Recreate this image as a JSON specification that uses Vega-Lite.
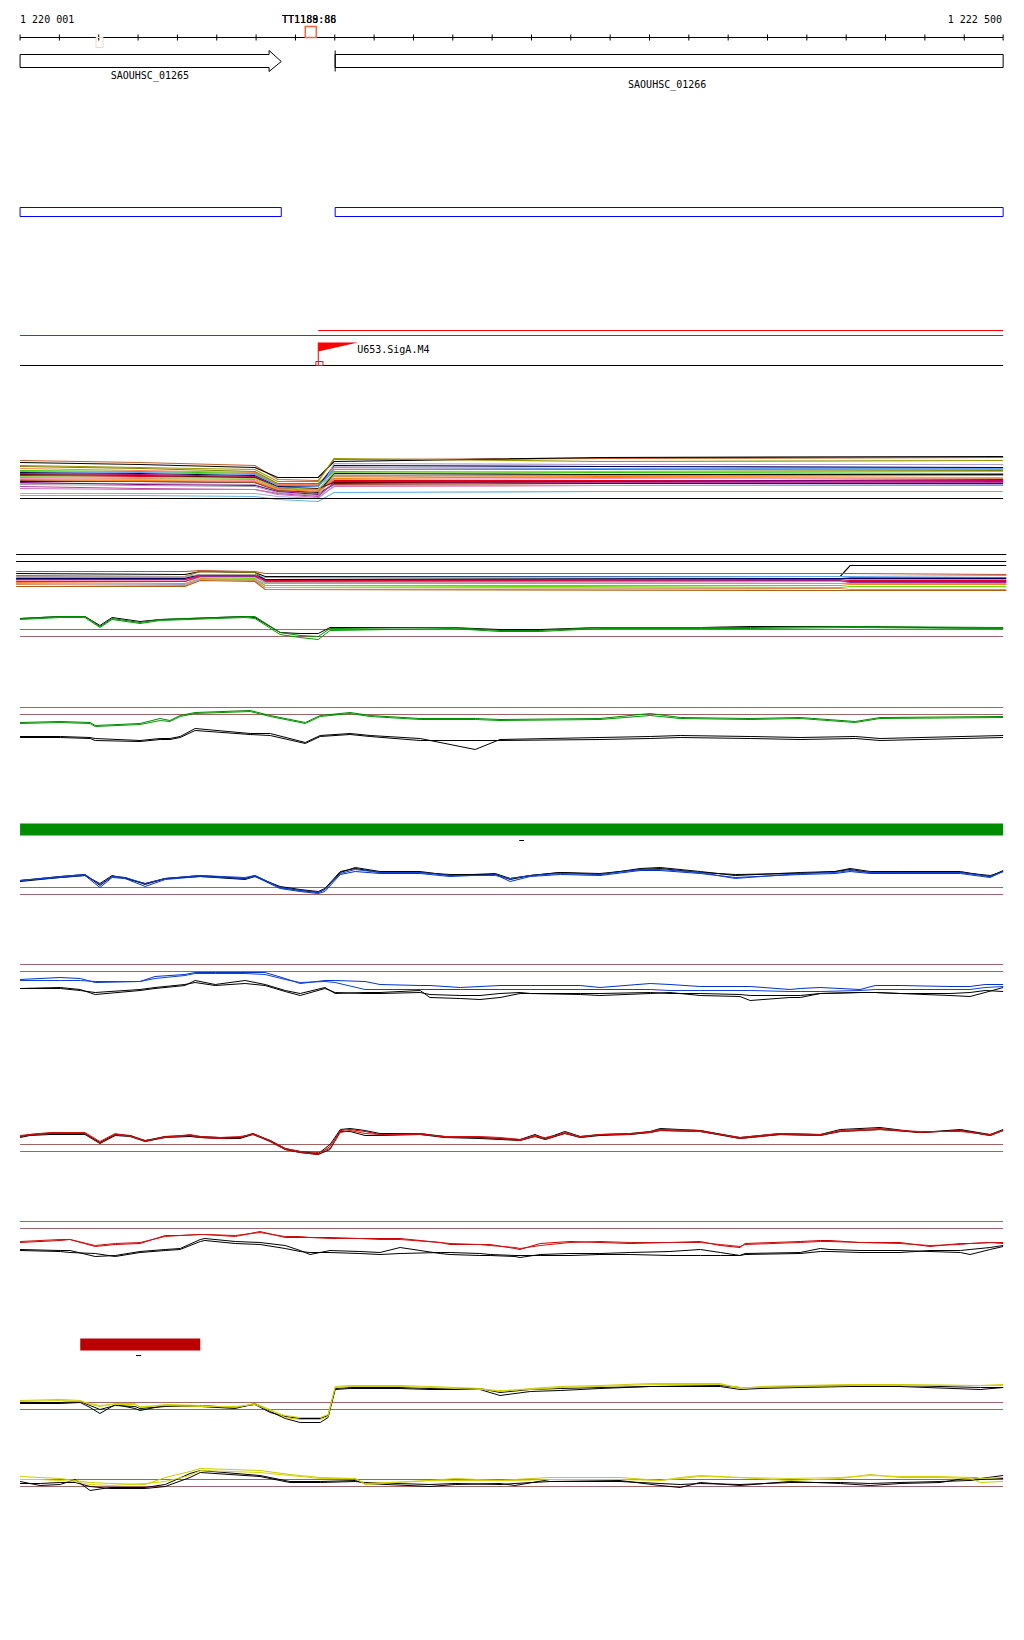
{
"$schema":"https://vega.github.io/schema/vega-lite/v6.json",
"background":"white","padding":0,"spacing":0,"bounds":"flush",
"config":{"view":{"stroke":null},"text":{"font":"DejaVu Sans Mono","fontSize":10,"baseline":"middle","color":"#000000"},"line":{"strokeWidth":1},"rule":{"strokeWidth":1}},
"resolve":{"scale":{"x":"independent","y":"independent","color":"independent"}},
"vconcat":[
{"width":1024,"height":50,"layer":[
 {"data":{"values":[{"start":1220001,"end":1222500}]},"mark":{"type":"rule","color":"#000000"},"encoding":{"x":{"field":"start","type":"quantitative","scale":{"domain":[1219950,1222553],"nice":false,"zero":false},"axis":null},"x2":{"field":"end"},"y":{"datum":12,"scale":{"domain":[-0.5,49.5],"nice":false,"zero":false},"axis":null}}},
 {"data":{"values":[{"x":1220001},{"x":1220101},{"x":1220201},{"x":1220301},{"x":1220401},{"x":1220501},{"x":1220601},{"x":1220701},{"x":1220801},{"x":1220901},{"x":1221001},{"x":1221101},{"x":1221201},{"x":1221301},{"x":1221401},{"x":1221501},{"x":1221601},{"x":1221701},{"x":1221801},{"x":1221901},{"x":1222001},{"x":1222101},{"x":1222201},{"x":1222301},{"x":1222401},{"x":1222500}]},"mark":{"type":"rule","color":"#000000"},"encoding":{"x":{"field":"x","type":"quantitative"},"y":{"datum":15},"y2":{"datum":9}}},
 {"data":{"values":[{"name":"TT1188:86","start":1220726,"end":1220754}]},"mark":{"type":"rect","fill":"transparent","stroke":"#FF6040","strokeWidth":1.5},"encoding":{"x":{"field":"start","type":"quantitative"},"x2":{"field":"end"},"y":{"datum":23},"y2":{"datum":12}}},
 {"data":{"values":[{"start":1220194,"end":1220212}]},"mark":{"type":"rect","fill":"transparent","stroke":"#F5D5C5","strokeWidth":1},"encoding":{"x":{"field":"start","type":"quantitative"},"x2":{"field":"end"},"y":{"datum":12},"y2":{"datum":2}}},
 {"data":{"values":[{"t":"1 220 001"}]},"mark":{"type":"text","align":"left"},"encoding":{"x":{"datum":1220001},"y":{"datum":29.5},"text":{"field":"t"}}},
 {"data":{"values":[{"t":"1 222 500"}]},"mark":{"type":"text","align":"right"},"encoding":{"x":{"datum":1222497},"y":{"datum":29.5},"text":{"field":"t"}}},
 {"data":{"values":[{"t":"TT1188:86"},{"t":"TT1189:88"}]},"mark":{"type":"text","align":"left"},"encoding":{"x":{"datum":1220667},"y":{"datum":29.5},"text":{"field":"t"}}}
]},
{"width":1024,"height":50,"layer":[
 {"data":{"values":[{"o":1,"x":1220001,"y":45},{"o":2,"x":1220634,"y":45},{"o":3,"x":1220634,"y":49},{"o":4,"x":1220665,"y":38},{"o":5,"x":1220634,"y":28},{"o":6,"x":1220634,"y":32},{"o":7,"x":1220001,"y":32},{"o":8,"x":1220001,"y":45}]},"mark":{"type":"line","color":"#000000","strokeWidth":1},"encoding":{"x":{"field":"x","type":"quantitative","scale":{"domain":[1219950,1222553],"nice":false,"zero":false},"axis":null},"y":{"field":"y","type":"quantitative","scale":{"domain":[-0.5,49.5],"nice":false,"zero":false},"axis":null},"order":{"field":"o"}}},
 {"data":{"values":[{"start":1220802,"end":1222500}]},"mark":{"type":"rect","fill":"white","stroke":"#000000","strokeWidth":1},"encoding":{"x":{"field":"start","type":"quantitative"},"x2":{"field":"end"},"y":{"datum":45},"y2":{"datum":32}}},
 {"data":{"values":[{"start":1220802}]},"mark":{"type":"rule","color":"#000000"},"encoding":{"x":{"field":"start","type":"quantitative"},"y":{"datum":49},"y2":{"datum":28}}},
 {"data":{"values":[{"t":"SAOUHSC_01265"}]},"mark":{"type":"text","align":"center"},"encoding":{"x":{"datum":1220331},"y":{"datum":24},"text":{"field":"t"}}},
 {"data":{"values":[{"t":"SAOUHSC_01266"}]},"mark":{"type":"text","align":"center"},"encoding":{"x":{"datum":1221646},"y":{"datum":15},"text":{"field":"t"}}}
]},
{"width":1024,"height":200,"layer":[
 {"data":{"values":[{"start":1220001,"end":1220665},{"start":1220802,"end":1222500}]},"mark":{"type":"rect","fill":"transparent","stroke":"#0000FF","strokeWidth":1},"encoding":{"x":{"field":"start","type":"quantitative","scale":{"domain":[1219950,1222553],"nice":false,"zero":false},"axis":null},"x2":{"field":"end"},"y":{"datum":92,"scale":{"domain":[-0.5,199.5],"nice":false,"zero":false},"axis":null},"y2":{"datum":83}}}
]},
{"width":1024,"height":80,"layer":[
 {"data":{"values":[{"start":1220001,"end":1222500}]},"mark":{"type":"rule","color":"#FF0000"},"encoding":{"x":{"field":"start","type":"quantitative","scale":{"domain":[1219950,1222553],"nice":false,"zero":false},"axis":null},"x2":{"field":"end"},"y":{"datum":44,"scale":{"domain":[-0.5,79.5],"nice":false,"zero":false},"axis":null}}},
 {"data":{"values":[{"start":1220759,"end":1222500}]},"mark":{"type":"rule","color":"#FF0000"},"encoding":{"x":{"field":"start","type":"quantitative"},"x2":{"field":"end"},"y":{"datum":49}}},
 {"data":{"values":[{"start":1220001,"end":1222500}]},"mark":{"type":"rule","color":"#000000"},"encoding":{"x":{"field":"start","type":"quantitative"},"x2":{"field":"end"},"y":{"datum":14}}},
 {"data":{"values":[{"tss":1220759}]},"mark":{"type":"rule","color":"#FF0000"},"encoding":{"x":{"field":"tss","type":"quantitative"},"y":{"datum":37},"y2":{"datum":14}}},
 {"data":{"values":[{"x":1220759,"t":37,"b":28},{"x":1220860,"t":37,"b":37}]},"mark":{"type":"area","color":"#FF0000"},"encoding":{"x":{"field":"x","type":"quantitative"},"y":{"field":"t","type":"quantitative"},"y2":{"field":"b"}}},
 {"data":{"values":[{"start":1220753,"end":1220771}]},"mark":{"type":"rect","fill":"transparent","stroke":"#FF0000","strokeWidth":1},"encoding":{"x":{"field":"start","type":"quantitative"},"x2":{"field":"end"},"y":{"datum":18},"y2":{"datum":14}}},
 {"data":{"values":[{"t":"U653.SigA.M4"}]},"mark":{"type":"text","align":"left"},"encoding":{"x":{"datum":1220858},"y":{"datum":30},"text":{"field":"t"}}}
]},
{"width":1024,"height":130,"layer":[
 {"data":{"values":[
{"x":1220001,"s1":49,"s2":47,"s3":44,"s4":41,"s5":43,"s6":39,"s7":37,"s8":36,"s9":34,"s10":32,"s11":31,"s12":28,"s13":29,"s14":26,"s15":27,"s16":25,"s17":30,"s18":23,"s19":21,"s20":14,"s21":16,"s22":35,"s23":38,"s24":33},
{"x":1220306,"s1":47,"s2":45,"s3":42,"s4":39,"s5":41,"s6":38,"s7":36,"s8":35,"s9":33,"s10":31,"s11":30,"s12":28,"s13":28,"s14":26,"s15":25,"s16":24,"s17":29,"s18":21,"s19":20,"s20":14,"s21":16,"s22":34,"s23":37,"s24":32},
{"x":1220598,"s1":44,"s2":42,"s3":40,"s4":37,"s5":38,"s6":36,"s7":34,"s8":33,"s9":32,"s10":30,"s11":29,"s12":27,"s13":27,"s14":25,"s15":24,"s16":23,"s17":28,"s18":20,"s19":20,"s20":13,"s21":16,"s22":32,"s23":35,"s24":31},
{"x":1220656,"s1":30,"s2":32,"s3":28,"s4":25,"s5":26,"s6":24,"s7":23,"s8":22,"s9":21,"s10":21,"s11":20,"s12":19,"s13":19,"s14":18,"s15":18,"s16":17,"s17":20,"s18":16,"s19":15,"s20":10,"s21":13,"s22":22,"s23":24,"s24":22},
{"x":1220759,"s1":29,"s2":32,"s3":28,"s4":25,"s5":26,"s6":24,"s7":23,"s8":21,"s9":20,"s10":19,"s11":18,"s12":17,"s13":16,"s14":15,"s15":15,"s16":14,"s17":18,"s18":13,"s19":12,"s20":8,"s21":11,"s22":21,"s23":23,"s24":20},
{"x":1220799,"s1":50,"s2":48,"s3":51,"s4":42,"s5":40,"s6":38,"s7":44,"s8":28,"s9":29,"s10":33,"s11":30,"s12":36,"s13":25,"s14":46,"s15":26,"s16":34,"s17":31,"s18":27,"s19":23,"s20":17,"s21":24,"s22":27,"s23":40,"s24":37},
{"x":1221475,"s1":51,"s2":52,"s3":48,"s4":41,"s5":40,"s6":37,"s7":43,"s8":28,"s9":29,"s10":32,"s11":31,"s12":35,"s13":24,"s14":45,"s15":28,"s16":34,"s17":33,"s18":27,"s19":24,"s20":18,"s21":24,"s22":26,"s23":41,"s24":38},
{"x":1222500,"s1":52,"s2":53,"s3":49,"s4":40,"s5":39,"s6":36,"s7":42,"s8":29,"s9":28,"s10":31,"s11":32,"s12":35,"s13":24,"s14":45,"s15":30,"s16":34,"s17":34,"s18":27,"s19":24,"s20":18,"s21":25,"s22":26,"s23":41,"s24":38}
 ]},"transform":[{"fold":["s1","s2","s3","s4","s5","s6","s7","s8","s9","s10","s11","s12","s13","s14","s15","s16","s17","s18","s19","s20","s21","s22","s23","s24"],"as":["s","v"]}],
 "mark":{"type":"line","strokeWidth":1.2},"encoding":{"x":{"field":"x","type":"quantitative","scale":{"domain":[1219950,1222553],"nice":false,"zero":false},"axis":null},"y":{"field":"v","type":"quantitative","scale":{"domain":[-0.5,129.5],"nice":false,"zero":false},"axis":null},"color":{"field":"s","type":"nominal","scale":{"domain":["s1","s2","s3","s4","s5","s6","s7","s8","s9","s10","s11","s12","s13","s14","s15","s16","s17","s18","s19","s20","s21","s22","s23","s24"],"range":["#C0602A","#000000","#999900","#FF7F50","#808000","#33CC00","#000050","#CC0066","#E00020","#D09060","#FF90B0","#111111","#A05030","#B0A0D0","#800080","#A0A0A0","#FF8000","#C040A0","#D070C0","#66B2E8","#A0A8E0","#600000","#60A0FF","#90D050"]},"legend":null}}},
 {"data":{"values":[{"start":1220001,"end":1222500,"v":11}]},"mark":{"type":"rule","color":"#000000"},"encoding":{"x":{"field":"start","type":"quantitative"},"x2":{"field":"end"},"y":{"field":"v","type":"quantitative"}}}
]},
{"width":1024,"height":90,"layer":[
 {"data":{"values":[{"start":1219991,"end":1222508,"v":45},{"start":1219991,"end":1222508,"v":38}]},"mark":{"type":"rule","color":"#000000"},"encoding":{"x":{"field":"start","type":"quantitative","scale":{"domain":[1219950,1222553],"nice":false,"zero":false},"axis":null},"x2":{"field":"end"},"y":{"field":"v","type":"quantitative","scale":{"domain":[-0.5,89.5],"nice":false,"zero":false},"axis":null}}},
 {"data":{"values":[
{"x":1219991,"a":26,"b":28,"c":24,"d":22,"e":20,"f":17,"g":15,"h":18,"i":19,"j":21,"k":18,"l":23,"m":13,"n":20,"o":16},
{"x":1220420,"a":25,"b":28,"c":23,"d":22,"e":20,"f":16,"g":14,"h":18,"i":19,"j":21,"k":18,"l":23,"m":13,"n":20,"o":15},
{"x":1220459,"a":28,"b":29,"c":28,"d":24,"e":23,"f":21,"g":20,"h":22,"i":22,"j":25,"k":23,"l":25,"m":19,"n":24,"o":20},
{"x":1220598,"a":27,"b":28,"c":27,"d":24,"e":23,"f":20,"g":19,"h":21,"i":22,"j":25,"k":23,"l":25,"m":18,"n":24,"o":20},
{"x":1220624,"a":23,"b":26,"c":20,"d":22,"e":19,"f":14,"g":12,"h":14,"i":17,"j":20,"k":18,"l":17,"m":10,"n":19,"o":16},
{"x":1222086,"a":23,"b":26,"c":21,"d":23,"e":18,"f":14,"g":11,"h":12,"i":16,"j":21,"k":19,"l":18,"m":9,"n":20,"o":16},
{"x":1222111,"a":34,"b":26,"c":22,"d":23,"e":18,"f":15,"g":10,"h":13,"i":17,"j":21,"k":17,"l":20,"m":9,"n":19,"o":16},
{"x":1222508,"a":34,"b":25,"c":22,"d":24,"e":18,"f":15,"g":10,"h":13,"i":17,"j":21,"k":17,"l":20,"m":9,"n":19,"o":16}
 ]},"transform":[{"fold":["a","b","c","d","e","f","g","h","i","j","k","l","m","n","o"],"as":["s","v"]}],
 "mark":{"type":"line","strokeWidth":1.2},"encoding":{"x":{"field":"x","type":"quantitative"},"y":{"field":"v","type":"quantitative"},"color":{"field":"s","type":"nominal","scale":{"domain":["a","b","c","d","e","f","g","h","i","j","k","l","m","n","o"],"range":["#000000","#C05030","#808000","#66AAEE","#C00070","#FF7F30","#D09060","#66DD00","#FF90C0","#000060","#9030A0","#B0A0A0","#B06010","#E00030","#A0A0D0"]},"legend":null}}}
]},
{"width":1024,"height":60,"layer":[
 {"data":{"values":[{"start":1220001,"end":1222500,"v":30},{"start":1220001,"end":1222500,"v":23}]},"mark":{"type":"rule","color":"#A06464"},"encoding":{"x":{"field":"start","type":"quantitative","scale":{"domain":[1219950,1222553],"nice":false,"zero":false},"axis":null},"x2":{"field":"end"},"y":{"field":"v","type":"quantitative","scale":{"domain":[-0.5,59.5],"nice":false,"zero":false},"axis":null}}},
 {"data":{"values":[
{"x":1220001,"k":41,"g1":41,"g2":40},{"x":1220103,"k":43,"g1":43,"g2":42},{"x":1220166,"k":43,"g1":43,"g2":42},{"x":1220204,"k":34,"g1":33,"g2":32},{"x":1220235,"k":42,"g1":41,"g2":40},{"x":1220306,"k":38,"g1":37,"g2":36},{"x":1220357,"k":40,"g1":40,"g2":39},{"x":1220573,"k":43,"g1":43,"g2":42},{"x":1220598,"k":42,"g1":43,"g2":41},{"x":1220662,"k":27,"g1":27,"g2":25},{"x":1220713,"k":26,"g1":24,"g2":22},{"x":1220759,"k":26,"g1":23,"g2":20},{"x":1220789,"k":32,"g1":31,"g2":29},{"x":1221094,"k":32,"g1":32,"g2":31},{"x":1221221,"k":30,"g1":29,"g2":28},{"x":1221323,"k":30,"g1":29,"g2":28},{"x":1221475,"k":32,"g1":32,"g2":31},{"x":1221730,"k":32,"g1":32,"g2":31},{"x":1221857,"k":33,"g1":32,"g2":31},{"x":1222111,"k":33,"g1":33,"g2":32},{"x":1222500,"k":31,"g1":32,"g2":31}
 ]},"transform":[{"fold":["k","g1","g2"],"as":["s","v"]}],
 "mark":{"type":"line","strokeWidth":1},"encoding":{"x":{"field":"x","type":"quantitative"},"y":{"field":"v","type":"quantitative"},"color":{"field":"s","type":"nominal","scale":{"domain":["k","g1","g2"],"range":["#000000","#008800","#009900"]},"legend":null}}}
]},
{"width":1024,"height":120,"layer":[
 {"data":{"values":[{"start":1220001,"end":1222500,"v":72},{"start":1220001,"end":1222500,"v":65}]},"mark":{"type":"rule","color":"#A06464"},"encoding":{"x":{"field":"start","type":"quantitative","scale":{"domain":[1219950,1222553],"nice":false,"zero":false},"axis":null},"x2":{"field":"end"},"y":{"field":"v","type":"quantitative","scale":{"domain":[-0.5,119.5],"nice":false,"zero":false},"axis":null}}},
 {"data":{"values":[
{"x":1220001,"g1":57,"g2":56,"k1":43,"k2":42},{"x":1220103,"g1":58,"g2":57,"k1":43,"k2":42},{"x":1220179,"g1":57,"g2":56,"k1":42,"k2":41},{"x":1220192,"g1":54,"g2":53,"k1":41,"k2":39},{"x":1220306,"g1":56,"g2":55,"k1":39,"k2":38},{"x":1220357,"g1":61,"g2":59,"k1":41,"k2":40},{"x":1220382,"g1":59,"g2":58,"k1":41,"k2":40},{"x":1220408,"g1":64,"g2":63,"k1":43,"k2":42},{"x":1220446,"g1":67,"g2":66,"k1":51,"k2":49},{"x":1220586,"g1":69,"g2":68,"k1":46,"k2":45},{"x":1220637,"g1":64,"g2":63,"k1":46,"k2":44},{"x":1220726,"g1":57,"g2":56,"k1":37,"k2":36},{"x":1220764,"g1":64,"g2":63,"k1":44,"k2":43},{"x":1220840,"g1":67,"g2":66,"k1":46,"k2":45},{"x":1220891,"g1":64,"g2":63,"k1":44,"k2":43},{"x":1221018,"g1":61,"g2":60,"k1":41,"k2":39},{"x":1221158,"g1":61,"g2":60,"k1":30,"k2":39},{"x":1221221,"g1":60,"g2":59,"k1":40,"k2":39},{"x":1221475,"g1":61,"g2":60,"k1":42,"k2":40},{"x":1221603,"g1":66,"g2":64,"k1":43,"k2":41},{"x":1221679,"g1":62,"g2":61,"k1":44,"k2":42},{"x":1221857,"g1":61,"g2":60,"k1":43,"k2":41},{"x":1221984,"g1":62,"g2":61,"k1":42,"k2":40},{"x":1222124,"g1":58,"g2":57,"k1":43,"k2":41},{"x":1222187,"g1":62,"g2":61,"k1":41,"k2":39},{"x":1222500,"g1":63,"g2":62,"k1":44,"k2":42}
 ]},"transform":[{"fold":["k1","k2","g1","g2"],"as":["s","v"]}],
 "mark":{"type":"line","strokeWidth":1},"encoding":{"x":{"field":"x","type":"quantitative"},"y":{"field":"v","type":"quantitative"},"color":{"field":"s","type":"nominal","scale":{"domain":["k1","k2","g1","g2"],"range":["#000000","#000000","#008800","#009900"]},"legend":null}}}
]},
{"width":1024,"height":80,"layer":[
 {"data":{"values":[{"start":1220001,"end":1222500}]},"mark":{"type":"rect","color":"#008C00"},"encoding":{"x":{"field":"start","type":"quantitative","scale":{"domain":[1219950,1222553],"nice":false,"zero":false},"axis":null},"x2":{"field":"end"},"y":{"datum":36,"scale":{"domain":[-0.5,79.5],"nice":false,"zero":false},"axis":null},"y2":{"datum":24}}},
 {"data":{"values":[{"start":1221270,"end":1221282}]},"mark":{"type":"rule","color":"#000000"},"encoding":{"x":{"field":"start","type":"quantitative"},"x2":{"field":"end"},"y":{"datum":19}}}
]},
{"width":1024,"height":60,"layer":[
 {"data":{"values":[{"start":1220001,"end":1222500,"v":32},{"start":1220001,"end":1222500,"v":25}]},"mark":{"type":"rule","color":"#A06464"},"encoding":{"x":{"field":"start","type":"quantitative","scale":{"domain":[1219950,1222553],"nice":false,"zero":false},"axis":null},"x2":{"field":"end"},"y":{"field":"v","type":"quantitative","scale":{"domain":[-0.5,59.5],"nice":false,"zero":false},"axis":null}}},
 {"data":{"values":[
{"x":1220001,"k1":39,"b1":39,"k2":38,"b2":39},{"x":1220103,"k1":43,"b1":42,"k2":42,"b2":43},{"x":1220166,"k1":45,"b1":44,"k2":44,"b2":45},{"x":1220204,"k1":34,"b1":32,"k2":36,"b2":35},{"x":1220235,"k1":43,"b1":42,"k2":44,"b2":43},{"x":1220268,"k1":42,"b1":41,"k2":41,"b2":42},{"x":1220319,"k1":35,"b1":33,"k2":36,"b2":36},{"x":1220370,"k1":41,"b1":40,"k2":41,"b2":41},{"x":1220459,"k1":44,"b1":43,"k2":43,"b2":44},{"x":1220573,"k1":41,"b1":41,"k2":40,"b2":42},
{"x":1220598,"k1":44,"b1":43,"k2":43,"b2":44},{"x":1220662,"k1":32,"b1":31,"k2":33,"b2":32},{"x":1220713,"k1":29,"b1":28,"k2":30,"b2":29},{"x":1220759,"k1":27,"b1":26,"k2":28,"b2":27},{"x":1220776,"k1":30,"b1":28,"k2":31,"b2":30},{"x":1220815,"k1":47,"b1":45,"k2":48,"b2":46},{"x":1220853,"k1":52,"b1":48,"k2":51,"b2":50},{"x":1220916,"k1":48,"b1":46,"k2":47,"b2":47},{"x":1221018,"k1":48,"b1":46,"k2":47,"b2":47},{"x":1221094,"k1":44,"b1":43,"k2":45,"b2":44},
{"x":1221209,"k1":46,"b1":45,"k2":45,"b2":44},{"x":1221247,"k1":41,"b1":38,"k2":40,"b2":41},{"x":1221298,"k1":44,"b1":43,"k2":44,"b2":44},{"x":1221374,"k1":47,"b1":45,"k2":47,"b2":46},{"x":1221475,"k1":45,"b1":44,"k2":46,"b2":45},{"x":1221577,"k1":51,"b1":49,"k2":50,"b2":50},{"x":1221628,"k1":52,"b1":49,"k2":51,"b2":50},{"x":1221730,"k1":48,"b1":46,"k2":47,"b2":47},{"x":1221819,"k1":44,"b1":42,"k2":45,"b2":41},{"x":1221984,"k1":47,"b1":45,"k2":46,"b2":46},
{"x":1222073,"k1":48,"b1":46,"k2":48,"b2":47},{"x":1222111,"k1":51,"b1":48,"k2":50,"b2":49},{"x":1222162,"k1":48,"b1":46,"k2":47,"b2":47},{"x":1222238,"k1":48,"b1":46,"k2":47,"b2":47},{"x":1222391,"k1":48,"b1":46,"k2":47,"b2":47},{"x":1222467,"k1":43,"b1":42,"k2":44,"b2":43},{"x":1222500,"k1":49,"b1":48,"k2":48,"b2":48}
 ]},"transform":[{"fold":["k1","k2","b1","b2"],"as":["s","v"]}],
 "mark":{"type":"line","strokeWidth":1},"encoding":{"x":{"field":"x","type":"quantitative"},"y":{"field":"v","type":"quantitative"},"color":{"field":"s","type":"nominal","scale":{"domain":["k1","k2","b1","b2"],"range":["#000000","#000000","#0033CC","#1040D8"]},"legend":null}}}
]},
{"width":1024,"height":160,"layer":[
 {"data":{"values":[{"start":1220001,"end":1222500,"v":115},{"start":1220001,"end":1222500,"v":108}]},"mark":{"type":"rule","color":"#A06464"},"encoding":{"x":{"field":"start","type":"quantitative","scale":{"domain":[1219950,1222553],"nice":false,"zero":false},"axis":null},"x2":{"field":"end"},"y":{"field":"v","type":"quantitative","scale":{"domain":[-0.5,159.5],"nice":false,"zero":false},"axis":null}}},
 {"data":{"values":[
{"x":1220001,"b1":100,"b2":99,"k1":91,"k2":91},{"x":1220103,"b1":102,"b2":99,"k1":92,"k2":91},{"x":1220154,"b1":101,"b2":99,"k1":90,"k2":89},{"x":1220192,"b1":97,"b2":98,"k1":85,"k2":87},{"x":1220306,"b1":98,"b2":98,"k1":89,"k2":90},{"x":1220344,"b1":103,"b2":101,"k1":91,"k2":92},{"x":1220420,"b1":105,"b2":104,"k1":94,"k2":95},{"x":1220446,"b1":107,"b2":106,"k1":99,"k2":97},{"x":1220497,"b1":107,"b2":106,"k1":95,"k2":94},{"x":1220573,"b1":107,"b2":106,"k1":99,"k2":96},
{"x":1220624,"b1":107,"b2":105,"k1":95,"k2":94},{"x":1220675,"b1":101,"b2":100,"k1":89,"k2":88},{"x":1220713,"b1":96,"b2":97,"k1":86,"k2":84},{"x":1220776,"b1":99,"b2":98,"k1":92,"k2":91},{"x":1220802,"b1":99,"b2":97,"k1":86,"k2":87},{"x":1220878,"b1":98,"b2":90,"k1":87,"k2":86},{"x":1220916,"b1":95,"b2":90,"k1":87,"k2":86},{"x":1221018,"b1":94,"b2":90,"k1":89,"k2":87},{"x":1221043,"b1":94,"b2":90,"k1":82,"k2":85},{"x":1221120,"b1":92,"b2":90,"k1":81,"k2":84},
{"x":1221170,"b1":93,"b2":90,"k1":80,"k2":84},{"x":1221221,"b1":94,"b2":90,"k1":82,"k2":86},{"x":1221272,"b1":94,"b2":90,"k1":86,"k2":87},{"x":1221298,"b1":94,"b2":90,"k1":86,"k2":86},{"x":1221425,"b1":94,"b2":90,"k1":85,"k2":86},{"x":1221475,"b1":92,"b2":90,"k1":84,"k2":86},{"x":1221603,"b1":96,"b2":90,"k1":86,"k2":87},{"x":1221653,"b1":95,"b2":89,"k1":87,"k2":86},{"x":1221730,"b1":93,"b2":89,"k1":84,"k2":86},{"x":1221831,"b1":93,"b2":89,"k1":83,"k2":85},
{"x":1221857,"b1":93,"b2":89,"k1":79,"k2":84},{"x":1221958,"b1":90,"b2":88,"k1":82,"k2":84},{"x":1221984,"b1":91,"b2":88,"k1":82,"k2":84},{"x":1222035,"b1":92,"b2":88,"k1":86,"k2":86},{"x":1222136,"b1":90,"b2":89,"k1":87,"k2":87},{"x":1222175,"b1":94,"b2":90,"k1":87,"k2":87},{"x":1222238,"b1":94,"b2":90,"k1":86,"k2":86},{"x":1222365,"b1":93,"b2":90,"k1":86,"k2":84},{"x":1222416,"b1":93,"b2":90,"k1":87,"k2":83},{"x":1222454,"b1":95,"b2":92,"k1":89,"k2":87},
{"x":1222500,"b1":95,"b2":93,"k1":88,"k2":92}
 ]},"transform":[{"fold":["k1","k2","b1","b2"],"as":["s","v"]}],
 "mark":{"type":"line","strokeWidth":1},"encoding":{"x":{"field":"x","type":"quantitative"},"y":{"field":"v","type":"quantitative"},"color":{"field":"s","type":"nominal","scale":{"domain":["k1","k2","b1","b2"],"range":["#000000","#000000","#0033CC","#1040D8"]},"legend":null}}}
]},
{"width":1024,"height":100,"layer":[
 {"data":{"values":[{"start":1220001,"end":1222500,"v":35},{"start":1220001,"end":1222500,"v":28}]},"mark":{"type":"rule","color":"#A06464"},"encoding":{"x":{"field":"start","type":"quantitative","scale":{"domain":[1219950,1222553],"nice":false,"zero":false},"axis":null},"x2":{"field":"end"},"y":{"field":"v","type":"quantitative","scale":{"domain":[-0.5,99.5],"nice":false,"zero":false},"axis":null}}},
 {"data":{"values":[
{"x":1220001,"r1":43,"r2":44,"k1":43,"k2":42},{"x":1220026,"r1":45,"r2":45,"k1":45,"k2":44},{"x":1220077,"r1":46,"r2":47,"k1":46,"k2":45},{"x":1220166,"r1":46,"r2":47,"k1":46,"k2":45},{"x":1220204,"r1":36,"r2":38,"k1":37,"k2":36},{"x":1220243,"r1":45,"r2":46,"k1":45,"k2":44},{"x":1220281,"r1":44,"r2":43,"k1":44,"k2":43},{"x":1220319,"r1":38,"r2":39,"k1":39,"k2":38},{"x":1220370,"r1":43,"r2":42,"k1":43,"k2":42},{"x":1220433,"r1":44,"r2":45,"k1":44,"k2":43},
{"x":1220459,"r1":42,"r2":43,"k1":43,"k2":42},{"x":1220509,"r1":41,"r2":42,"k1":42,"k2":41},{"x":1220560,"r1":42,"r2":43,"k1":42,"k2":41},{"x":1220593,"r1":46,"r2":45,"k1":46,"k2":45},{"x":1220637,"r1":38,"r2":39,"k1":39,"k2":38},{"x":1220675,"r1":30,"r2":31,"k1":31,"k2":30},{"x":1220713,"r1":27,"r2":28,"k1":28,"k2":27},{"x":1220759,"r1":25,"r2":27,"k1":26,"k2":25},{"x":1220789,"r1":33,"r2":31,"k1":35,"k2":30},{"x":1220815,"r1":49,"r2":47,"k1":50,"k2":48},
{"x":1220840,"r1":50,"r2":49,"k1":51,"k2":48},{"x":1220878,"r1":48,"r2":46,"k1":49,"k2":44},{"x":1220916,"r1":45,"r2":45,"k1":46,"k2":44},{"x":1221018,"r1":46,"r2":45,"k1":46,"k2":45},{"x":1221081,"r1":42,"r2":43,"k1":43,"k2":42},{"x":1221170,"r1":42,"r2":43,"k1":42,"k2":41},{"x":1221221,"r1":41,"r2":42,"k1":41,"k2":40},{"x":1221272,"r1":39,"r2":40,"k1":40,"k2":39},{"x":1221310,"r1":44,"r2":43,"k1":45,"k2":43},{"x":1221336,"r1":40,"r2":42,"k1":41,"k2":40},
{"x":1221386,"r1":47,"r2":46,"k1":48,"k2":46},{"x":1221425,"r1":42,"r2":43,"k1":43,"k2":42},{"x":1221475,"r1":45,"r2":45,"k1":45,"k2":44},{"x":1221552,"r1":45,"r2":46,"k1":46,"k2":45},{"x":1221603,"r1":48,"r2":47,"k1":48,"k2":47},{"x":1221628,"r1":50,"r2":49,"k1":51,"k2":49},{"x":1221730,"r1":49,"r2":48,"k1":49,"k2":48},{"x":1221831,"r1":41,"r2":42,"k1":42,"k2":41},{"x":1221933,"r1":45,"r2":46,"k1":46,"k2":45},{"x":1222035,"r1":44,"r2":45,"k1":45,"k2":44},
{"x":1222086,"r1":49,"r2":48,"k1":50,"k2":48},{"x":1222187,"r1":51,"r2":50,"k1":52,"k2":50},{"x":1222289,"r1":47,"r2":48,"k1":47,"k2":47},{"x":1222391,"r1":49,"r2":48,"k1":50,"k2":49},{"x":1222467,"r1":44,"r2":45,"k1":45,"k2":44},{"x":1222500,"r1":49,"r2":49,"k1":50,"k2":49}
 ]},"transform":[{"fold":["k1","k2","r1","r2"],"as":["s","v"]}],
 "mark":{"type":"line","strokeWidth":1},"encoding":{"x":{"field":"x","type":"quantitative"},"y":{"field":"v","type":"quantitative"},"color":{"field":"s","type":"nominal","scale":{"domain":["k1","k2","r1","r2"],"range":["#000000","#000000","#CC0000","#D01010"]},"legend":null}}}
]},
{"width":1024,"height":120,"layer":[
 {"data":{"values":[{"start":1220001,"end":1222500,"v":78},{"start":1220001,"end":1222500,"v":71}]},"mark":{"type":"rule","color":"#A06464"},"encoding":{"x":{"field":"start","type":"quantitative","scale":{"domain":[1219950,1222553],"nice":false,"zero":false},"axis":null},"x2":{"field":"end"},"y":{"field":"v","type":"quantitative","scale":{"domain":[-0.5,119.5],"nice":false,"zero":false},"axis":null}}},
 {"data":{"values":[
{"x":1220001,"r1":57,"r2":58,"k1":50,"k2":49},{"x":1220103,"r1":59,"r2":60,"k1":49,"k2":48},{"x":1220128,"r1":60,"r2":60,"k1":49,"k2":47},{"x":1220192,"r1":53,"r2":54,"k1":43,"k2":46},{"x":1220243,"r1":55,"r2":56,"k1":44,"k2":43},{"x":1220306,"r1":56,"r2":57,"k1":48,"k2":47},{"x":1220370,"r1":64,"r2":63,"k1":50,"k2":49},{"x":1220408,"r1":64,"r2":64,"k1":51,"k2":50},{"x":1220459,"r1":65,"r2":65,"k1":60,"k2":58},{"x":1220471,"r1":65,"r2":65,"k1":61,"k2":59},
{"x":1220548,"r1":63,"r2":64,"k1":58,"k2":56},{"x":1220611,"r1":68,"r2":67,"k1":57,"k2":55},{"x":1220675,"r1":62,"r2":63,"k1":54,"k2":51},{"x":1220713,"r1":62,"r2":63,"k1":49,"k2":48},{"x":1220738,"r1":62,"r2":62,"k1":45,"k2":47},{"x":1220789,"r1":62,"r2":61,"k1":49,"k2":47},{"x":1220865,"r1":61,"r2":61,"k1":48,"k2":46},{"x":1220916,"r1":61,"r2":60,"k1":47,"k2":45},{"x":1220967,"r1":61,"r2":60,"k1":52,"k2":46},{"x":1221069,"r1":57,"r2":57,"k1":46,"k2":47},
{"x":1221094,"r1":55,"r2":56,"k1":45,"k2":47},{"x":1221170,"r1":55,"r2":55,"k1":44,"k2":46},{"x":1221196,"r1":55,"r2":54,"k1":44,"k2":45},{"x":1221259,"r1":51,"r2":52,"k1":43,"k2":44},{"x":1221272,"r1":50,"r2":51,"k1":42,"k2":44},{"x":1221323,"r1":56,"r2":54,"k1":45,"k2":44},{"x":1221399,"r1":58,"r2":57,"k1":46,"k2":44},{"x":1221475,"r1":57,"r2":58,"k1":46,"k2":45},{"x":1221552,"r1":56,"r2":57,"k1":47,"k2":45},{"x":1221653,"r1":57,"r2":57,"k1":48,"k2":44},
{"x":1221730,"r1":58,"r2":57,"k1":50,"k2":44},{"x":1221781,"r1":54,"r2":55,"k1":47,"k2":44},{"x":1221831,"r1":52,"r2":53,"k1":44,"k2":44},{"x":1221844,"r1":56,"r2":55,"k1":46,"k2":45},{"x":1221984,"r1":58,"r2":57,"k1":47,"k2":46},{"x":1222035,"r1":59,"r2":58,"k1":51,"k2":48},{"x":1222060,"r1":59,"r2":58,"k1":50,"k2":48},{"x":1222136,"r1":57,"r2":57,"k1":49,"k2":47},{"x":1222238,"r1":57,"r2":56,"k1":49,"k2":47},{"x":1222314,"r1":53,"r2":54,"k1":48,"k2":49},
{"x":1222391,"r1":56,"r2":55,"k1":47,"k2":49},{"x":1222416,"r1":56,"r2":56,"k1":45,"k2":50},{"x":1222467,"r1":57,"r2":57,"k1":50,"k2":52},{"x":1222500,"r1":56,"r2":57,"k1":53,"k2":54}
 ]},"transform":[{"fold":["k1","k2","r1","r2"],"as":["s","v"]}],
 "mark":{"type":"line","strokeWidth":1},"encoding":{"x":{"field":"x","type":"quantitative"},"y":{"field":"v","type":"quantitative"},"color":{"field":"s","type":"nominal","scale":{"domain":["k1","k2","r1","r2"],"range":["#000000","#000000","#CC0000","#D01010"]},"legend":null}}}
]},
{"width":1024,"height":70,"layer":[
 {"data":{"values":[{"start":1220154,"end":1220459}]},"mark":{"type":"rect","color":"#BB0000"},"encoding":{"x":{"field":"start","type":"quantitative","scale":{"domain":[1219950,1222553],"nice":false,"zero":false},"axis":null},"x2":{"field":"end"},"y":{"datum":31,"scale":{"domain":[-0.5,69.5],"nice":false,"zero":false},"axis":null},"y2":{"datum":19}}},
 {"data":{"values":[{"start":1220296,"end":1220309}]},"mark":{"type":"rule","color":"#000000"},"encoding":{"x":{"field":"start","type":"quantitative"},"x2":{"field":"end"},"y":{"datum":14}}}
]},
{"width":1024,"height":70,"layer":[
 {"data":{"values":[{"start":1220001,"end":1222500,"v":37},{"start":1220001,"end":1222500,"v":30}]},"mark":{"type":"rule","color":"#A06464"},"encoding":{"x":{"field":"start","type":"quantitative","scale":{"domain":[1219950,1222553],"nice":false,"zero":false},"axis":null},"x2":{"field":"end"},"y":{"field":"v","type":"quantitative","scale":{"domain":[-0.5,69.5],"nice":false,"zero":false},"axis":null}}},
 {"data":{"values":[
{"x":1220001,"y1":39,"y2":38,"k1":36,"k2":37},{"x":1220103,"y1":40,"y2":39,"k1":36,"k2":37},{"x":1220154,"y1":39,"y2":38,"k1":37,"k2":38},{"x":1220179,"y1":35,"y2":36,"k1":32,"k2":34},{"x":1220204,"y1":33,"y2":34,"k1":26,"k2":30},{"x":1220243,"y1":36,"y2":35,"k1":35,"k2":34},{"x":1220293,"y1":36,"y2":35,"k1":31,"k2":33},{"x":1220306,"y1":32,"y2":33,"k1":29,"k2":31},{"x":1220370,"y1":35,"y2":34,"k1":34,"k2":33},{"x":1220459,"y1":34,"y2":33,"k1":33,"k2":34},
{"x":1220548,"y1":32,"y2":33,"k1":31,"k2":32},{"x":1220598,"y1":36,"y2":35,"k1":36,"k2":35},{"x":1220637,"y1":30,"y2":29,"k1":28,"k2":27},{"x":1220675,"y1":22,"y2":24,"k1":21,"k2":23},{"x":1220713,"y1":20,"y2":22,"k1":17,"k2":21},{"x":1220764,"y1":20,"y2":22,"k1":17,"k2":21},{"x":1220784,"y1":23,"y2":25,"k1":22,"k2":24},{"x":1220802,"y1":53,"y2":52,"k1":50,"k2":51},{"x":1220840,"y1":54,"y2":53,"k1":51,"k2":52},{"x":1220967,"y1":54,"y2":53,"k1":51,"k2":52},
{"x":1221043,"y1":53,"y2":52,"k1":50,"k2":51},{"x":1221170,"y1":51,"y2":50,"k1":50,"k2":51},{"x":1221221,"y1":48,"y2":49,"k1":44,"k2":47},{"x":1221298,"y1":51,"y2":50,"k1":48,"k2":50},{"x":1221374,"y1":53,"y2":52,"k1":49,"k2":51},{"x":1221475,"y1":54,"y2":53,"k1":51,"k2":52},{"x":1221603,"y1":56,"y2":55,"k1":53,"k2":53},{"x":1221781,"y1":56,"y2":55,"k1":53,"k2":54},{"x":1221831,"y1":51,"y2":52,"k1":50,"k2":52},{"x":1221882,"y1":53,"y2":52,"k1":51,"k2":52},
{"x":1221984,"y1":54,"y2":53,"k1":52,"k2":53},{"x":1222111,"y1":55,"y2":54,"k1":53,"k2":54},{"x":1222238,"y1":55,"y2":54,"k1":53,"k2":54},{"x":1222442,"y1":54,"y2":54,"k1":50,"k2":52},{"x":1222500,"y1":55,"y2":54,"k1":52,"k2":52}
 ]},"transform":[{"fold":["k1","k2","y1","y2"],"as":["s","v"]}],
 "mark":{"type":"line","strokeWidth":1},"encoding":{"x":{"field":"x","type":"quantitative"},"y":{"field":"v","type":"quantitative"},"color":{"field":"s","type":"nominal","scale":{"domain":["k1","k2","y1","y2"],"range":["#000000","#000000","#CCCC00","#D4D400"]},"legend":null}}}
]},
{"width":1024,"height":200,"layer":[
 {"data":{"values":[{"start":1220001,"end":1222500,"v":160},{"start":1220001,"end":1222500,"v":153}]},"mark":{"type":"rule","color":"#A06464"},"encoding":{"x":{"field":"start","type":"quantitative","scale":{"domain":[1219950,1222553],"nice":false,"zero":false},"axis":null},"x2":{"field":"end"},"y":{"field":"v","type":"quantitative","scale":{"domain":[-0.5,199.5],"nice":false,"zero":false},"axis":null}}},
 {"data":{"values":[
{"x":1220001,"y1":163,"y2":160,"k1":158,"k2":156},{"x":1220052,"y1":162,"y2":160,"k1":154,"k2":156},{"x":1220103,"y1":161,"y2":159,"k1":155,"k2":157},{"x":1220141,"y1":159,"y2":158,"k1":160,"k2":157},{"x":1220179,"y1":157,"y2":155,"k1":149,"k2":153},{"x":1220230,"y1":156,"y2":154,"k1":152,"k2":151},{"x":1220319,"y1":155,"y2":156,"k1":152,"k2":151},{"x":1220370,"y1":162,"y2":158,"k1":155,"k2":153},{"x":1220433,"y1":168,"y2":164,"k1":166,"k2":162},{"x":1220459,"y1":171,"y2":169,"k1":169,"k2":167},
{"x":1220611,"y1":169,"y2":167,"k1":164,"k2":163},{"x":1220687,"y1":165,"y2":164,"k1":158,"k2":157},{"x":1220764,"y1":162,"y2":161,"k1":158,"k2":157},{"x":1220853,"y1":161,"y2":161,"k1":159,"k2":158},{"x":1220878,"y1":155,"y2":156,"k1":156,"k2":157},{"x":1221043,"y1":159,"y2":159,"k1":153,"k2":155},{"x":1221107,"y1":161,"y2":159,"k1":155,"k2":156},{"x":1221221,"y1":159,"y2":159,"k1":156,"k2":155},{"x":1221259,"y1":160,"y2":159,"k1":154,"k2":156},{"x":1221348,"y1":162,"y2":160,"k1":160,"k2":158},
{"x":1221526,"y1":162,"y2":160,"k1":159,"k2":158},{"x":1221628,"y1":159,"y2":159,"k1":154,"k2":156},{"x":1221679,"y1":162,"y2":161,"k1":152,"k2":155},{"x":1221730,"y1":164,"y2":163,"k1":157,"k2":156},{"x":1221831,"y1":162,"y2":162,"k1":154,"k2":155},{"x":1221958,"y1":159,"y2":161,"k1":158,"k2":157},{"x":1222086,"y1":161,"y2":162,"k1":156,"k2":157},{"x":1222162,"y1":165,"y2":164,"k1":154,"k2":156},{"x":1222238,"y1":162,"y2":163,"k1":156,"k2":157},{"x":1222340,"y1":162,"y2":163,"k1":157,"k2":158},
{"x":1222416,"y1":161,"y2":162,"k1":162,"k2":159},{"x":1222442,"y1":157,"y2":161,"k1":161,"k2":160},{"x":1222500,"y1":158,"y2":162,"k1":164,"k2":161}
 ]},"transform":[{"fold":["k1","k2","y1","y2"],"as":["s","v"]}],
 "mark":{"type":"line","strokeWidth":1},"encoding":{"x":{"field":"x","type":"quantitative"},"y":{"field":"v","type":"quantitative"},"color":{"field":"s","type":"nominal","scale":{"domain":["k1","k2","y1","y2"],"range":["#000000","#000000","#CCCC00","#D4D400"]},"legend":null}}}
]}
]
}
